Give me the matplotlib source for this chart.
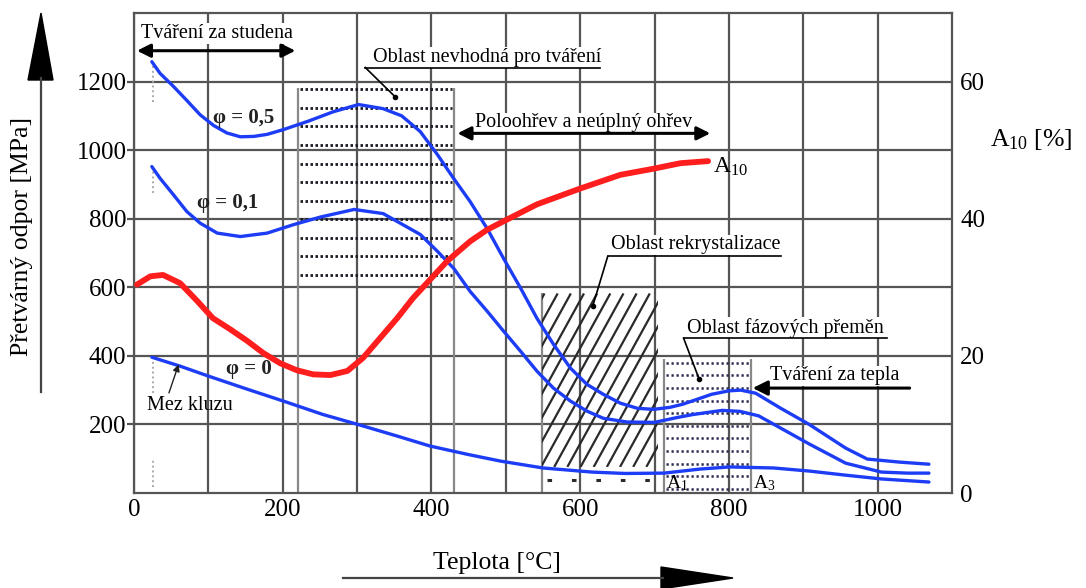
import numpy as np
import matplotlib
matplotlib.use('Agg')
import matplotlib.pyplot as plt
from matplotlib.patches import Polygon, Rectangle
from matplotlib.lines import Line2D

plt.rcParams['font.family'] = ['Liberation Serif', 'DejaVu Serif']
plt.rcParams['mathtext.fontset'] = 'custom'
plt.rcParams['mathtext.rm'] = 'Liberation Serif'
plt.rcParams['mathtext.it'] = 'Liberation Serif:italic'
plt.rcParams['mathtext.bf'] = 'Liberation Serif:bold'

# ---------------- data ----------------
temp_phi05 = [24, 35, 53, 71, 89, 107, 125, 143, 161, 179, 201, 235, 268, 302, 335, 360, 385,
              408, 430, 452, 475, 497, 520, 542, 564, 587, 609, 631, 654, 677, 699, 721, 738,
              777, 800, 816, 836, 869, 908, 957, 986, 1030, 1069]
res_phi05 = [1258, 1224, 1186, 1145, 1103, 1072, 1050, 1039, 1040, 1046, 1060, 1085, 1112, 1133,
             1121, 1100, 1054, 987, 917, 850, 771, 684, 597, 509, 434, 364, 317, 288, 262, 247,
             244, 250, 259, 288, 298, 300, 291, 248, 200, 131, 99, 90, 84]

temp_phi01 = [24, 35, 53, 71, 89, 112, 143, 179, 215, 251, 296, 335, 385, 408, 430, 452, 475,
              497, 520, 542, 564, 587, 609, 631, 663, 700, 730, 752, 791, 815, 840, 869, 908,
              957, 1005, 1040, 1069]
res_phi01 = [952, 918, 870, 821, 787, 758, 748, 758, 783, 805, 827, 815, 754, 705, 655, 588, 530,
             472, 413, 355, 306, 268, 239, 218, 207, 206, 220, 229, 241, 238, 225, 190, 143,
             87, 61, 58, 58]

temp_phi0 = [24, 62, 100, 152, 201, 254, 301, 354, 398, 450, 493, 550, 616, 660, 713, 762,
             801, 860, 908, 957, 1005, 1069]
res_phi0 = [396, 370, 341, 303, 268, 229, 200, 166, 137, 112, 93, 73, 61, 57, 58, 70,
            76, 73, 64, 52, 41, 32]

temp_a10 = [4, 22, 39, 62, 85, 106, 129, 152, 174, 197, 219, 241, 264, 287, 308, 331, 354,
            375, 398, 421, 452, 475, 502, 542, 600, 654, 699, 735, 772]
a10 = [30.4, 31.6, 31.8, 30.6, 28.0, 25.5, 23.9, 22.2, 20.4, 18.9, 17.9, 17.3, 17.2, 17.8,
       19.7, 22.6, 25.5, 28.4, 31.1, 33.8, 36.7, 38.4, 39.9, 42.1, 44.4, 46.4, 47.3, 48.1, 48.4]

x_ticks = [0, 200, 400, 600, 800, 1000]
y_ticks = [200, 400, 600, 800, 1000, 1200]
a10_ticks = [0, 20, 40, 60]

# regions (temperature range, resistance range)
region_unsuitable = (220, 430, 637, 1177)
region_recryst = (548, 705, 76, 582)
region_phase = (713, 830, 12, 380)

# ---------------- figure ----------------
W, H = 1086, 588
fig = plt.figure(figsize=(W / 100, H / 100), dpi=100)
L, R, T, B = 134, 952, 13, 493
ax = fig.add_axes([L / W, 1 - B / H, (R - L) / W, (B - T) / H])
ax.set_xlim(0, 1100)
ax.set_ylim(0, 1400)

grid_c = '#555555'
ax.set_xticks(np.arange(0, 1100, 100))
ax.set_xticklabels([str(v) if v in x_ticks else '' for v in range(0, 1100, 100)])
ax.set_yticks(y_ticks)
ax.grid(True, color=grid_c, lw=1.6, zorder=0)
ax.set_axisbelow(True)
ax.tick_params(axis='x', length=0, pad=4, labelsize=18)
ax.tick_params(axis='y', length=5, width=1.6, color=grid_c, pad=0.5, labelsize=18)
for s in ax.spines.values():
    s.set_color(grid_c)
    s.set_linewidth(1.6)

# region: unsuitable for forming (dotted rows)
x0, x1, y0, y1 = region_unsuitable
ax.vlines([x0, x1], 0, y1 + 5, color='#888888', lw=1.6, zorder=1)
for yy in np.linspace(y0, y1, 11):
    ax.hlines(yy, x0 + 3, x1 - 2, color='#1a1a22', lw=2.0, linestyles=(0, (0.9, 0.9)), zorder=2)

# region: recrystallisation (slanted hatching)
x0, x1, y0, y1 = region_recryst
ax.vlines([x0], 0, y1, color='#888888', lw=1.6, zorder=1)
clip = Rectangle((x0, y0), x1 - x0, y1 - y0, transform=ax.transData, visible=False)
ax.add_patch(clip)
shift = 0.254 * (y1 - y0)
for t0 in np.arange(x0 - shift + 4, x1 + 1, 17.7):
    ln, = ax.plot([t0, t0 + shift], [y0, y1], color='#2a2a2a', lw=1.6, zorder=2,
                  solid_capstyle='butt')
    ln.set_clip_path(clip)
ax.hlines(38, x0 + 8, x1 - 6, color='#2a2a2a', lw=2.2, linestyles=(0, (1.5, 6.5)), zorder=2)

# region: phase transformation (dotted rows)
x0, x1, y0, y1 = region_phase
ax.vlines([x0, x1], 0, y1 + 10, color='#888888', lw=1.6, zorder=1)
for yy in np.linspace(y0, y1, 11):
    ax.hlines(yy, x0 + 3, x1 - 2, color='#2a2a50', lw=1.8, linestyles=(0, (0.9, 1.1)), zorder=2)

# faint dotted marks at curve starts
ax.vlines([25, 25, 25, 25], [1139, 874, 291, 17], [1252, 950, 387, 96], color='#aaaaaa', lw=1.4,
          linestyles=(0, (1, 1.5)), zorder=2)

# blue curves
blue = '#1d3cf5'
for tt, rr in [(temp_phi05, res_phi05), (temp_phi01, res_phi01), (temp_phi0, res_phi0)]:
    ax.plot(tt, rr, color=blue, lw=2.4, zorder=4, solid_capstyle='round',
            solid_joinstyle='round')

# right axis with A10
ax2 = ax.twinx()
ax2.set_ylim(0, 70)
ax2.set_yticks(a10_ticks)
ax2.tick_params(axis='y', length=0, pad=6, labelsize=18)
for s in ax2.spines.values():
    s.set_visible(False)
ax2.plot(temp_a10, a10, color='#ff1e1e', lw=4.2, solid_capstyle='round',
         solid_joinstyle='round', zorder=5)

# ---------------- annotations ----------------
fs = 14.5
wb = dict(facecolor='white', edgecolor='none', pad=0.5)

ax.text(10, 1340, 'Tváření za studena', fontsize=fs, ha='left', va='center', bbox=wb, zorder=6)
ax.annotate('', xy=(4, 1290), xytext=(217, 1290),
            arrowprops=dict(arrowstyle='<|-|>', color='black', lw=2.2, mutation_scale=20,
                            shrinkA=0, shrinkB=0), zorder=6)

ax.text(322, 1270, 'Oblast nevhodná pro tváření', fontsize=fs, ha='left', va='center',
        bbox=wb, zorder=6)
ax.plot([311, 627], [1241, 1241], color='black', lw=1.2, zorder=6)
ax.plot([311, 351], [1241, 1156], color='black', lw=1.2, zorder=6)
ax.plot([351], [1156], 'o', color='black', ms=3, zorder=6)

ax.text(459, 1080, 'Poloohřev a neúplný ohřev', fontsize=fs, ha='left', va='center',
        bbox=wb, zorder=6)
ax.annotate('', xy=(435, 1049), xytext=(775, 1049),
            arrowprops=dict(arrowstyle='<|-|>', color='black', lw=2.2, mutation_scale=20,
                            shrinkA=0, shrinkB=0), zorder=6)

ax.text(778, 950, r'A$_{\mathrm{10}}$', fontsize=17, ha='left', va='center', zorder=6)

ax.text(642, 724, 'Oblast rekrystalizace', fontsize=fs, ha='left', va='center', bbox=wb, zorder=6)
ax.plot([637, 870], [690, 690], color='black', lw=1.2, zorder=6)
ax.plot([637, 617], [690, 546], color='black', lw=1.2, zorder=6)
ax.plot([617], [546], 'o', color='black', ms=3, zorder=6)

ax.text(743, 482, 'Oblast fázových přeměn', fontsize=fs, ha='left', va='center', bbox=wb, zorder=6)
ax.plot([739, 1012], [452, 452], color='black', lw=1.2, zorder=6)
ax.plot([739, 760], [452, 332], color='black', lw=1.2, zorder=6)
ax.plot([760], [332], 'o', color='black', ms=3, zorder=6)

ax.text(855, 342, 'Tváření za tepla', fontsize=fs, ha='left', va='center', bbox=wb, zorder=6)
ax.annotate('', xy=(832, 306), xytext=(1043, 306),
            arrowprops=dict(arrowstyle='-|>', color='black', lw=2.2, mutation_scale=22,
                            shrinkA=0, shrinkB=0), zorder=6)

ax.text(17, 256, 'Mez kluzu', fontsize=fs, ha='left', va='center', zorder=6)
ax.annotate('', xy=(60, 375), xytext=(47, 292),
            arrowprops=dict(arrowstyle='-|>', color='#222222', lw=1.0, mutation_scale=10,
                            shrinkA=0, shrinkB=0), zorder=6)

ax.text(147, 1095, 'φ = 0,5', fontsize=15, fontweight='bold', ha='center', va='center',
        color='#222222', zorder=6)
ax.text(126, 845, 'φ = 0,1', fontsize=15, fontweight='bold', ha='center', va='center',
        color='#222222', zorder=6)
ax.text(155, 361, 'φ = 0', fontsize=15, fontweight='bold', ha='center', va='center',
        color='#222222', zorder=6)

ax.text(716, 28, r'A$_{\mathrm{1}}$', fontsize=14, ha='left', va='center', zorder=6)
ax.text(832, 28, r'A$_{\mathrm{3}}$', fontsize=14, ha='left', va='center', zorder=6)

# ---------------- outer labels and arrows ----------------
def fx(px):
    return px / W

def fy(py):
    return 1 - py / H

fig.text(fx(22), fy(236), 'Přetvárný odpor [MPa]', rotation=90, fontsize=18.5,
         ha='center', va='center')
fig.text(fx(497), fy(563), 'Teplota [°C]', fontsize=18.5, ha='center', va='center')
fig.text(fx(990), fy(140), r'A$_{\mathrm{10}}$ [%]', fontsize=18.5, ha='left', va='center')

fig.add_artist(Line2D([fx(41), fx(41)], [fy(392), fy(78)], color='#444444', lw=1.6,
                      transform=fig.transFigure))
fig.add_artist(Polygon([[fx(28), fy(80)], [fx(53), fy(80)], [fx(41), fy(13)]], closed=True,
                       facecolor='black', edgecolor='black', transform=fig.transFigure))
fig.add_artist(Line2D([fx(343), fx(663)], [fy(578), fy(578)], color='#444444', lw=1.6,
                      transform=fig.transFigure))
fig.add_artist(Polygon([[fx(661), fy(567)], [fx(661), fy(589)], [fx(733), fy(578)]], closed=True,
                       facecolor='black', edgecolor='black', transform=fig.transFigure))

fig.savefig('out.png', dpi=100, facecolor='white')
